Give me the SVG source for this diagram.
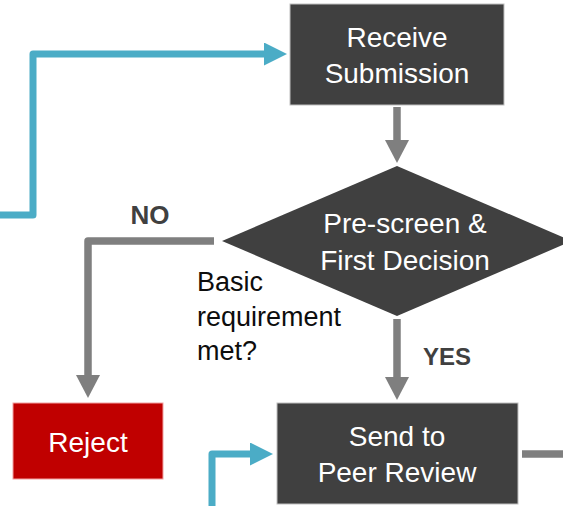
<svg xmlns="http://www.w3.org/2000/svg" width="563" height="506" viewBox="0 0 563 506">
<style>
.box{fill:#404040;stroke:#bfbfbf;stroke-width:1}
.rej{fill:#c00000;stroke:#f2a0a0;stroke-width:1}
.bt{font-family:"Liberation Sans",Arial,sans-serif;font-size:28px;fill:#ffffff;text-anchor:middle}
.lab{font-family:"Liberation Sans",Arial,sans-serif;font-size:24px;font-weight:bold;fill:#404040}
.ann{font-family:"Liberation Sans",Arial,sans-serif;font-size:27px;fill:#0d0d0d}
.gray{fill:none;stroke:#7f7f7f;stroke-width:7.5;stroke-linejoin:round}
.blue{fill:none;stroke:#4bacc6;stroke-width:7;stroke-linejoin:round}
</style>
<defs>
<marker id="ag" markerUnits="userSpaceOnUse" markerWidth="23" markerHeight="24" viewBox="0 0 23 24" refX="0" refY="12" orient="auto">
<path d="M0,0 L23,12 L0,24 z" fill="#7f7f7f"/>
</marker>
<marker id="ab" markerUnits="userSpaceOnUse" markerWidth="23" markerHeight="23" viewBox="0 0 23 23" refX="0" refY="11.5" orient="auto">
<path d="M0,0 L23,11.5 L0,23 z" fill="#4bacc6"/>
</marker>
</defs>
<g id="connectors">
<path class="blue" d="M0,215 H33 V54 H264" marker-end="url(#ab)"/>
<path class="blue" d="M212,506 V454 H250" marker-end="url(#ab)"/>
<path class="gray" d="M397,107 V140" marker-end="url(#ag)"/>
<path class="gray" d="M214,241 H88 V375" marker-end="url(#ag)"/>
<path class="gray" d="M397,319 V377" marker-end="url(#ag)"/>
<path class="gray" d="M522,454 H563"/>
</g>
<g id="receive">
<rect class="box" x="290" y="4" width="214" height="101"/>
<text class="bt" x="397" y="47">Receive</text>
<text class="bt" x="397" y="83">Submission</text>
</g>
<g id="prescreen">
<polygon points="397,166 572,241 397,316 222,241" fill="#404040"/>
<text class="bt" x="405" y="233">Pre-screen &amp;</text>
<text class="bt" x="405" y="270">First Decision</text>
</g>
<g id="reject">
<rect class="rej" x="13" y="403" width="150" height="76"/>
<text class="bt" x="88" y="452">Reject</text>
</g>
<g id="peer">
<rect class="box" x="277" y="403" width="241" height="101"/>
<text class="bt" x="397" y="446">Send to</text>
<text class="bt" x="397" y="482">Peer Review</text>
</g>
<g id="labels">
<text class="lab" x="150" y="224" text-anchor="middle" style="font-size:26px">NO</text>
<text class="lab" x="423" y="365">YES</text>
<text class="ann" x="197" y="291">Basic</text>
<text class="ann" x="197" y="326">requirement</text>
<text class="ann" x="197" y="360">met?</text>
</g>
</svg>
